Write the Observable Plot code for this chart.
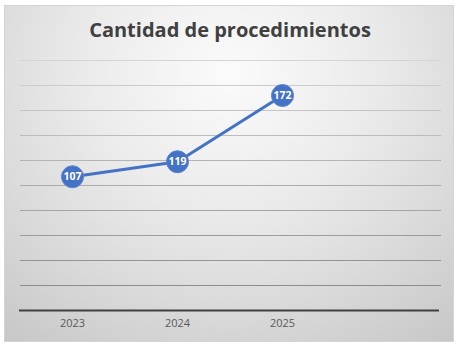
<!DOCTYPE html>
<html>
<head>
<meta charset="utf-8">
<script src="https://cdn.jsdelivr.net/npm/d3@7"></script>
<script src="https://cdn.jsdelivr.net/npm/@observablehq/plot@0.6"></script>
<style>
  html, body { margin: 0; padding: 0; background: #fff; }
  #wrap { position: relative; width: 460px; height: 358px; overflow: hidden; }
  #bg { position: absolute; left: 4px; top: 5px; width: 448px; height: 335px;
        border: 1px solid #d4d4d4;
        background: radial-gradient(ellipse 80% 100% at 50% 20%, #fbfbfb 0%, #ebebeb 40%, #d7d7d7 75%, #c8c8c8 100%); }
  #title { position: absolute; left: 0; top: 16px; width: 460px; text-align: center;
           font-family: "Open Sans", sans-serif; font-weight: 700; font-size: 20px; color: #404040; margin: 0; }
  #chart { position: absolute; left: 0; top: 0; }
</style>
</head>
<body>
<div id="wrap">
  <div id="bg"></div>
  <h2 id="title">Cantidad de procedimientos</h2>
  <div id="chart"></div>
</div>
<script>
const categories = ["2023", "2024", "2025", " "];
const years = ["2023", "2024", "2025"];
const values = [107, 119, 172];
const yTicks = [20, 40, 60, 80, 100, 120, 140, 160, 180, 200];

const data = years.map((year, i) => ({year, value: values[i]}));

const chart = Plot.plot({
  width: 460,
  height: 358,
  marginLeft: 19,
  marginRight: 21,
  marginTop: 60,
  marginBottom: 48,
  style: {background: "transparent", fontFamily: "'Open Sans', sans-serif"},
  x: {type: "point", domain: categories, padding: 0.5, label: null},
  y: {domain: [0, 200], axis: null},
  color: {type: "linear", domain: [20, 200], range: ["#8c8c8c", "#d4d4d4"]},
  marks: [
    Plot.ruleY(yTicks, {y: d => d, stroke: d => d, strokeWidth: 1, insetLeft: 1, insetRight: -2}),
    Plot.ruleY([0], {stroke: "#404040", strokeWidth: 2.2}),
    Plot.axisX({tickSize: 0, tickPadding: 9, fontSize: 11, fill: "#595959", label: null, tickFormat: d => d.trim()}),
    Plot.line(data, {x: "year", y: "value", stroke: "#4472C4", strokeWidth: 3}),
    Plot.dot(data, {x: "year", y: "value", r: 11, fill: "#4472C4", stroke: "#5b84cf", strokeWidth: 1}),
    Plot.text(data, {x: "year", y: "value", text: d => String(d.value), fill: "white", fontWeight: "bold", fontSize: 10.5, fontFamily: "'Liberation Sans Narrow', 'Open Sans', sans-serif"})
  ]
});
document.getElementById("chart").appendChild(chart);
</script>
</body>
</html>
